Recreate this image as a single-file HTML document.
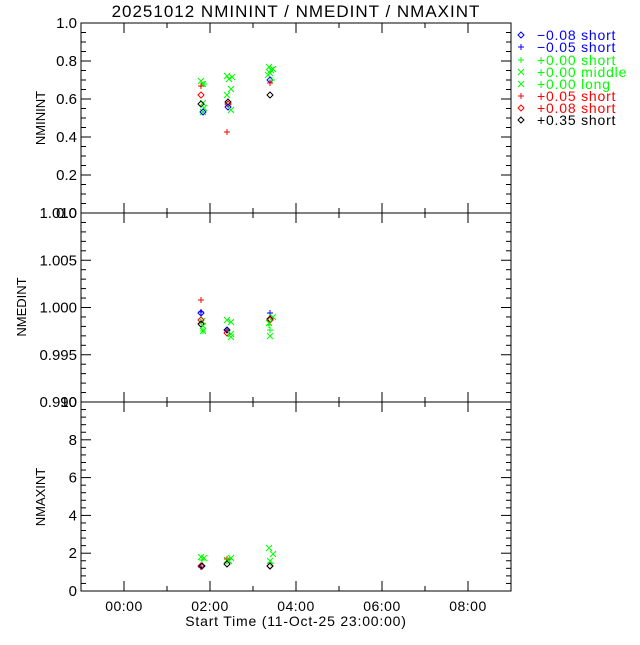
<!DOCTYPE html>
<html><head><style>
body{margin:0;background:#fff;}
svg text{font-family:"Liberation Sans","DejaVu Sans",sans-serif;}
</style></head><body>
<svg width="640" height="640" viewBox="0 0 640 640" xmlns="http://www.w3.org/2000/svg">
<defs>
<path id="d" d="M0,-3 L3,0 L0,3 L-3,0 Z" fill="none"/>
<path id="p" d="M-3,0 H3 M0,-3 V3" fill="none"/>
<path id="x" d="M-3,-3 L3,3 M-3,3 L3,-3" fill="none"/>
</defs>
<rect width="640" height="640" fill="#fff"/>
<text x="296" y="17" font-size="17" text-anchor="middle" letter-spacing="1">20251012 NMININT / NMEDINT / NMAXINT</text>
<g stroke="#000" stroke-width="1" fill="none">
<rect x="81" y="23" width="430" height="568"/>
<line x1="81" y1="213" x2="511" y2="213"/>
<line x1="81" y1="402" x2="511" y2="402"/>
</g>
<g id="ticks" stroke="#000" stroke-width="1"></g>
<g id="labels" font-size="15" fill="#000"></g>
<text transform="translate(45,118) rotate(-90)" font-size="13" text-anchor="middle">NMININT</text>
<text transform="translate(26,307) rotate(-90)" font-size="13" text-anchor="middle">NMEDINT</text>
<text transform="translate(45,497) rotate(-90)" font-size="13" text-anchor="middle">NMAXINT</text>
<g font-size="14" text-anchor="middle" letter-spacing="0.5">
<text x="124" y="611">00:00</text><text x="210" y="611">02:00</text>
<text x="296" y="611">04:00</text><text x="382" y="611">06:00</text>
<text x="468" y="611">08:00</text>
</g>
<text x="296" y="626" font-size="14" text-anchor="middle" letter-spacing="0.8">Start Time (11-Oct-25 23:00:00)</text>
<g font-size="14" letter-spacing="0.8">
<use href="#d" x="521" y="35" stroke="#00f"/><text x="537" y="40" fill="#00f">−0.08 short</text>
<use href="#p" x="521" y="47" stroke="#00f"/><text x="537" y="52" fill="#00f">−0.05 short</text>
<use href="#p" x="521" y="60" stroke="#0f0"/><text x="537" y="65" fill="#0f0">+0.00 short</text>
<use href="#x" x="521" y="72" stroke="#0f0"/><text x="537" y="77" fill="#0f0">+0.00 middle</text>
<use href="#x" x="521" y="84" stroke="#0f0"/><text x="537" y="89" fill="#0f0">+0.00 long</text>
<use href="#p" x="521" y="96" stroke="#f00"/><text x="537" y="101" fill="#f00">+0.05 short</text>
<use href="#d" x="521" y="108" stroke="#f00"/><text x="537" y="113" fill="#f00">+0.08 short</text>
<use href="#d" x="521" y="120" stroke="#000"/><text x="537" y="125" fill="#000">+0.35 short</text>
</g>
<g stroke-width="1">
<use href="#x" x="201" y="81" stroke="#0f0"/><use href="#x" x="203" y="84" stroke="#0f0"/><use href="#p" x="204" y="84" stroke="#0f0"/>
<use href="#p" x="201" y="86" stroke="#f00"/><use href="#d" x="201" y="95" stroke="#f00"/>
<use href="#x" x="203" y="103" stroke="#0f0"/><use href="#d" x="201" y="104" stroke="#000"/>
<use href="#x" x="204" y="108" stroke="#0f0"/><use href="#x" x="203" y="112" stroke="#0f0"/><use href="#d" x="203" y="112" stroke="#00f"/>
<use href="#x" x="227" y="76" stroke="#0f0"/><use href="#x" x="232" y="77" stroke="#0f0"/><use href="#x" x="229" y="79" stroke="#0f0"/>
<use href="#x" x="231" y="89" stroke="#0f0"/><use href="#x" x="227" y="95" stroke="#0f0"/>
<use href="#d" x="228" y="102" stroke="#000"/><use href="#d" x="228" y="104" stroke="#f00"/><use href="#d" x="228" y="107" stroke="#00f"/>
<use href="#x" x="231" y="110" stroke="#0f0"/><use href="#p" x="227" y="132" stroke="#f00"/>
<use href="#x" x="269" y="67" stroke="#0f0"/><use href="#x" x="271" y="70" stroke="#0f0"/><use href="#x" x="273" y="69" stroke="#0f0"/>
<use href="#x" x="270" y="73" stroke="#0f0"/><use href="#x" x="268" y="75" stroke="#0f0"/>
<use href="#d" x="270" y="80" stroke="#00f"/><use href="#p" x="272" y="80" stroke="#0f0"/>
<use href="#p" x="270" y="83" stroke="#f00"/><use href="#d" x="270" y="95" stroke="#000"/>
<use href="#p" x="201" y="300" stroke="#f00"/><use href="#d" x="201" y="313" stroke="#00f"/><use href="#p" x="201" y="312" stroke="#00f"/>
<use href="#x" x="202" y="321" stroke="#0f0"/><use href="#d" x="201" y="320" stroke="#f00"/><use href="#d" x="201" y="324" stroke="#000"/>
<use href="#x" x="203" y="326" stroke="#0f0"/><use href="#x" x="203" y="331" stroke="#0f0"/><use href="#p" x="203" y="331" stroke="#0f0"/>
<use href="#x" x="227" y="320" stroke="#0f0"/><use href="#x" x="231" y="322" stroke="#0f0"/>
<use href="#d" x="227" y="330" stroke="#000"/><use href="#p" x="227" y="330" stroke="#00f"/><use href="#d" x="227" y="333" stroke="#f00"/>
<use href="#x" x="231" y="334" stroke="#0f0"/><use href="#x" x="231" y="337" stroke="#0f0"/>
<use href="#p" x="270" y="313" stroke="#00f"/><use href="#x" x="273" y="317" stroke="#0f0"/><use href="#d" x="270" y="319" stroke="#000"/>
<use href="#d" x="270" y="320" stroke="#f00"/><use href="#x" x="269" y="323" stroke="#0f0"/><use href="#p" x="269" y="325" stroke="#0f0"/>
<use href="#p" x="270" y="330" stroke="#0f0"/><use href="#x" x="270" y="336" stroke="#0f0"/>
<use href="#x" x="201" y="557" stroke="#0f0"/><use href="#x" x="204" y="558" stroke="#0f0"/><use href="#p" x="202" y="560" stroke="#0f0"/>
<use href="#p" x="201" y="567" stroke="#00f"/><use href="#d" x="201" y="566" stroke="#f00"/><use href="#d" x="202" y="566" stroke="#000"/>
<use href="#x" x="227" y="560" stroke="#0f0"/><use href="#x" x="231" y="558" stroke="#0f0"/><use href="#p" x="227" y="559" stroke="#f00"/>
<use href="#d" x="227" y="564" stroke="#000"/><use href="#x" x="229" y="561" stroke="#0f0"/>
<use href="#x" x="269" y="548" stroke="#0f0"/><use href="#x" x="273" y="554" stroke="#0f0"/><use href="#x" x="270" y="561" stroke="#0f0"/>
<use href="#p" x="271" y="563" stroke="#0f0"/><use href="#d" x="270" y="566" stroke="#f00"/><use href="#d" x="270" y="566" stroke="#000"/>
</g>
<script>
var t=document.getElementById('ticks'),l=document.getElementById('labels'),ns='http://www.w3.org/2000/svg';
function ln(a,b,c,d){var e=document.createElementNS(ns,'line');e.setAttribute('x1',a);e.setAttribute('y1',b);e.setAttribute('x2',c);e.setAttribute('y2',d);t.appendChild(e);}
function tx(x,y,s){var e=document.createElementNS(ns,'text');e.setAttribute('x',x);e.setAttribute('y',y);e.setAttribute('text-anchor','end');e.textContent=s;l.appendChild(e);}
[124,210,296,382,468].forEach(function(x){ln(x,591,x,581);ln(x,402,x,392);ln(x,213,x,203);ln(x,402,x,412);ln(x,213,x,223);ln(x,23,x,33);});
[167,253,339,425].forEach(function(x){ln(x,591,x,586);ln(x,402,x,397);ln(x,213,x,208);ln(x,402,x,407);ln(x,213,x,218);ln(x,23,x,28);});
function yax(top,bot,nmaj,nmin,labs){var h=bot-top;for(var i=0;i<=nmaj*nmin;i++){var y=bot-h*i/(nmaj*nmin);var maj=i%nmin==0;ln(81,y,81+(maj?10:5),y);ln(511,y,511-(maj?10:5),y);if(maj)tx(77,y+5,labs[i/nmin]);}}
yax(23,213,5,4,['0.0','0.2','0.4','0.6','0.8','1.0']);
yax(213,402,4,5,['0.990','0.995','1.000','1.005','1.010']);
yax(402,591,5,5,['0','2','4','6','8','10']);
</script>
</svg>
</body></html>
